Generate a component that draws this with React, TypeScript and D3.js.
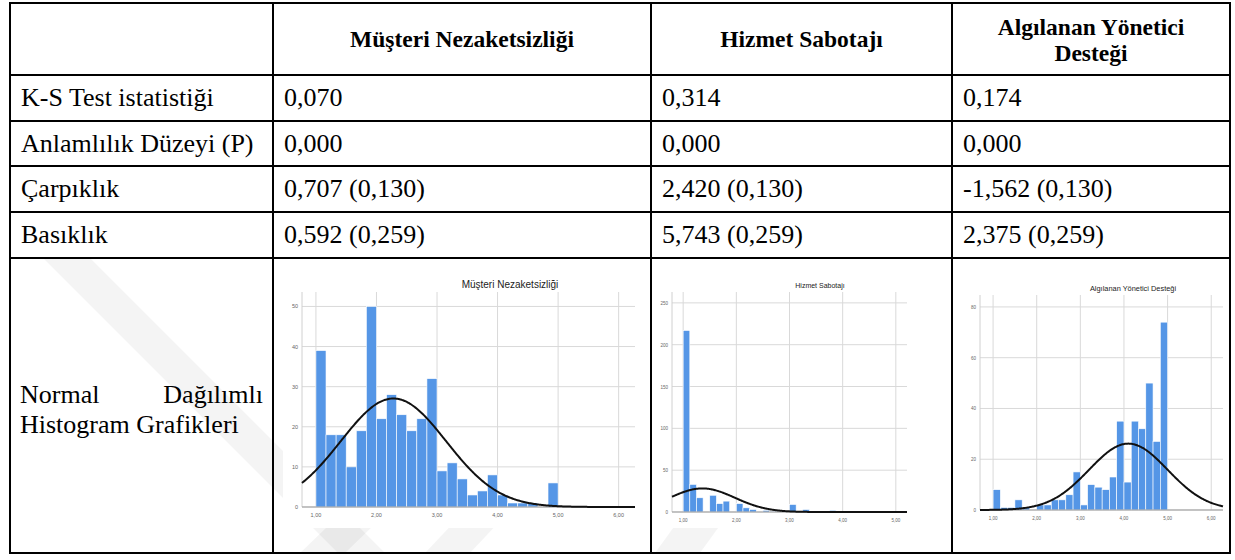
import React from "react";
import * as d3 from "d3";

// ---------- table data ----------
const headers = ["Müşteri Nezaketsizliği", "Hizmet Sabotajı", "Algılanan Yönetici", "Desteği"];
const rowLabels = ["K-S Test istatistiği", "Anlamlılık Düzeyi (P)", "Çarpıklık", "Basıklık"];
const ksValues = ["0,070", "0,314", "0,174"];
const pValues = ["0,000", "0,000", "0,000"];
const skewValues = ["0,707 (0,130)", "2,420 (0,130)", "-1,562 (0,130)"];
const kurtValues = ["0,592 (0,259)", "5,743 (0,259)", "2,375 (0,259)"];
const lastRowLabel = ["Normal", "Dağılımlı", "Histogram Grafikleri"];

// ---------- histogram data ----------
const h1Title = "Müşteri Nezaketsizliği";
const h1BinStart = 1.0;
const h1BinWidth = 1 / 6;
const h1Counts = [39, 18, 18, 10, 19, 50, 22, 28, 23, 19, 22, 32, 9, 11, 7, 3, 4, 8, 3, 1, 1, 1, 0, 6];
const h1Mean = 2.28;
const h1Sd = 0.87;
const h1XTicks = [1, 2, 3, 4, 5, 6];
const h1YTicks = [0, 10, 20, 30, 40, 50];

const h2Title = "Hizmet Sabotajı";
const h2BinStart = 1.0;
const h2BinWidth = 0.125;
const h2Counts = [217, 33, 17, 0, 20, 10, 13, 0, 10, 5, 3, 0, 2, 1, 0, 0, 9, 0, 3, 0, 0, 0, 2];
const h2Mean = 1.36;
const h2Sd = 0.61;
const h2XTicks = [1, 2, 3, 4, 5];
const h2YTicks = [0, 50, 100, 150, 200, 250];

const h3Title = "Algılanan Yönetici Desteği";
const h3BinStart = 1.0;
const h3BinWidth = 1 / 6;
const h3Counts = [8, 1, 1, 4, 1, 0, 2, 2, 4, 4, 6, 15, 2, 10, 9, 8, 13, 35, 11, 35, 32, 50, 27, 74];
const h3Mean = 4.1;
const h3Sd = 0.9;
const h3XTicks = [1, 2, 3, 4, 5, 6];
const h3YTicks = [0, 20, 40, 60, 80];

const fmt = (v: number) => v.toFixed(2).replace(".", ",");

type HistProps = {
  title: string;
  binStart: number;
  binWidth: number;
  counts: number[];
  mean: number;
  sd: number;
  xTicks: number[];
  yTicks: number[];
  xDomain: [number, number];
  yMax: number;
  left: number;
  right: number;
  top: number;
  bottom: number;
  titleX: number;
  titleY: number;
  titleSize: number;
  tickSize: number;
};

function Histogram(p: HistProps) {
  const x = d3.scaleLinear().domain(p.xDomain).range([p.left, p.right]);
  const y = d3.scaleLinear().domain([0, p.yMax]).range([p.bottom, p.top]);
  const n = d3.sum(p.counts);
  const pdf = (v: number) =>
    (n * p.binWidth * Math.exp(-0.5 * ((v - p.mean) / p.sd) ** 2)) / (p.sd * Math.sqrt(2 * Math.PI));
  const xs = d3.range(0, 301).map((i) => p.xDomain[0] + ((p.xDomain[1] - p.xDomain[0]) * i) / 300);
  const line = d3
    .line<number>()
    .x((v) => x(v))
    .y((v) => y(pdf(v)))
    .curve(d3.curveBasis);
  const sans = "Liberation Sans, Arial, sans-serif";
  return (
    <g>
      <text x={p.titleX} y={p.titleY} textAnchor="middle" fontFamily={sans} fontSize={p.titleSize} fill="#222">
        {p.title}
      </text>
      {p.yTicks.map((t) => (
        <g key={"y" + t}>
          <line x1={p.left} x2={p.right} y1={y(t)} y2={y(t)} stroke="#d9d9d9" strokeWidth={1} />
          <text x={p.left - 4} y={y(t) + 2} textAnchor="end" fontFamily={sans} fontSize={p.tickSize} fill="#666">
            {t}
          </text>
        </g>
      ))}
      {p.xTicks.map((t) => (
        <g key={"x" + t}>
          <line x1={x(t)} x2={x(t)} y1={p.top} y2={p.bottom} stroke="#d9d9d9" strokeWidth={1} />
          <text x={x(t)} y={p.bottom + 10} textAnchor="middle" fontFamily={sans} fontSize={p.tickSize} fill="#666">
            {fmt(t)}
          </text>
        </g>
      ))}
      <line x1={p.left} x2={p.left} y1={p.top} y2={p.bottom} stroke="#d0d0d0" strokeWidth={1} />
      {p.counts.map((c, i) =>
        c > 0 ? (
          <rect
            key={"b" + i}
            x={x(p.binStart + i * p.binWidth)}
            y={y(c)}
            width={x(p.binStart + (i + 1) * p.binWidth) - x(p.binStart + i * p.binWidth)}
            height={y(0) - y(c)}
            fill="#5596e6"
            stroke="#ffffff"
            strokeWidth={0.6}
          />
        ) : null
      )}
      <line x1={p.left} x2={p.right} y1={p.bottom} y2={p.bottom} stroke="#999" strokeWidth={1} />
      <path d={line(xs) || ""} fill="none" stroke="#111" strokeWidth={2} />
    </g>
  );
}

const colX = [10, 273, 651, 952, 1230];
const rowY = [3, 75, 121, 166, 212, 258, 553];

export default function App() {
  const serif = "Liberation Serif, Times New Roman, serif";
  const bodySize = 26;
  const headSize = 23.5;
  const rows = [ksValues, pValues, skewValues, kurtValues];
  return (
    <div style={{ position: "absolute", left: 0, top: 0 }}>
      <svg width={1235} height={560} style={{ display: "block", background: "#fff" }}>
        <rect x={0} y={0} width={1235} height={560} fill="#fff" />
        {/* faint watermark bands */}
        <g fill="#000" fillOpacity={0.045}>
          <polygon points="43,258 90,258 385,553 338,553" />
          <polygon points="300,553 345,553 400,500 355,500" />
          <polygon points="425,553 470,553 520,500 475,500" />
          <polygon points="655,553 700,553 760,470 715,470" />
        </g>
        {/* histograms */}
        <rect x={283} y={266} width={358} height={262} fill="#fff" />
        <rect x={660} y={266} width={252} height={262} fill="#fff" />
        <rect x={960} y={266} width={268} height={262} fill="#fff" />
        <Histogram
          title={h1Title}
          binStart={h1BinStart}
          binWidth={h1BinWidth}
          counts={h1Counts}
          mean={h1Mean}
          sd={h1Sd}
          xTicks={h1XTicks}
          yTicks={h1YTicks}
          xDomain={[0.77, 6.27]}
          yMax={53.6}
          left={302}
          right={635}
          top={292}
          bottom={507}
          titleX={510}
          titleY={288}
          titleSize={10}
          tickSize={5.5}
        />
        <Histogram
          title={h2Title}
          binStart={h2BinStart}
          binWidth={h2BinWidth}
          counts={h2Counts}
          mean={h2Mean}
          sd={h2Sd}
          xTicks={h2XTicks}
          yTicks={h2YTicks}
          xDomain={[0.79, 5.21]}
          yMax={263}
          left={672}
          right={907}
          top={292}
          bottom={512}
          titleX={820}
          titleY={288}
          titleSize={7}
          tickSize={4.5}
        />
        <Histogram
          title={h3Title}
          binStart={h3BinStart}
          binWidth={h3BinWidth}
          counts={h3Counts}
          mean={h3Mean}
          sd={h3Sd}
          xTicks={h3XTicks}
          yTicks={h3YTicks}
          xDomain={[0.7, 6.27]}
          yMax={84.7}
          left={980}
          right={1223}
          top={295}
          bottom={510}
          titleX={1133}
          titleY={291}
          titleSize={7.4}
          tickSize={4.5}
        />
        {/* table lines */}
        {rowY.map((yy) => (
          <line key={"h" + yy} x1={colX[0] - 1} x2={colX[4] + 1} y1={yy} y2={yy} stroke="#000" strokeWidth={2} />
        ))}
        {colX.map((xx) => (
          <line key={"v" + xx} x1={xx} x2={xx} y1={rowY[0]} y2={rowY[6]} stroke="#000" strokeWidth={2} />
        ))}
        {/* headers */}
        <text x={(colX[1] + colX[2]) / 2} y={47} textAnchor="middle" fontFamily={serif} fontWeight="bold" fontSize={headSize}>
          {headers[0]}
        </text>
        <text x={(colX[2] + colX[3]) / 2} y={47} textAnchor="middle" fontFamily={serif} fontWeight="bold" fontSize={headSize}>
          {headers[1]}
        </text>
        <text x={(colX[3] + colX[4]) / 2} y={35} textAnchor="middle" fontFamily={serif} fontWeight="bold" fontSize={headSize}>
          {headers[2]}
        </text>
        <text x={(colX[3] + colX[4]) / 2} y={61} textAnchor="middle" fontFamily={serif} fontWeight="bold" fontSize={headSize}>
          {headers[3]}
        </text>
        {/* body rows */}
        {rowLabels.map((lab, i) => (
          <g key={lab}>
            <text x={colX[0] + 11} y={rowY[i + 1] + 31} fontFamily={serif} fontSize={bodySize}>
              {lab}
            </text>
            {rows[i].map((v, j) => (
              <text key={j} x={colX[j + 1] + 11} y={rowY[i + 1] + 31} fontFamily={serif} fontSize={bodySize}>
                {v}
              </text>
            ))}
          </g>
        ))}
        <text x={colX[0] + 10} y={403} fontFamily={serif} fontSize={bodySize}>
          {lastRowLabel[0]}
        </text>
        <text x={colX[1] - 10} y={403} textAnchor="end" fontFamily={serif} fontSize={bodySize}>
          {lastRowLabel[1]}
        </text>
        <text x={colX[0] + 10} y={433} fontFamily={serif} fontSize={bodySize}>
          {lastRowLabel[2]}
        </text>
      </svg>
    </div>
  );
}
